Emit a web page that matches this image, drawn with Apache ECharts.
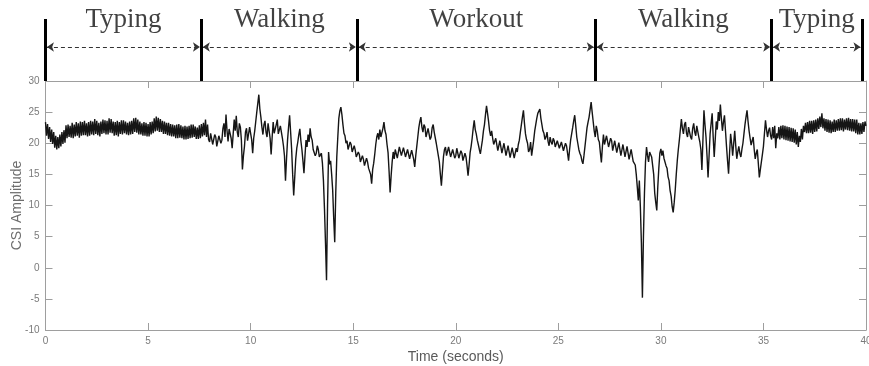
<!DOCTYPE html>
<html>
<head>
<meta charset="utf-8">
<script src="https://cdn.jsdelivr.net/npm/echarts@6/dist/echarts.min.js"></script>
<style>html,body{margin:0;padding:0;background:#fff;}#chart{width:869px;height:366px;}</style>
</head>
<body>
<div id="chart"></div>
<script>
// Sample spacing of the trace (seconds)
var sampleStep = 0.05;
// CSI amplitude, one value every 0.05 s, rows = one second
var csiAmplitude = [
  23.4, 21.2, 23.1, 20.7, 22.6, 20.2, 22.2, 19.9, 21.8, 19.3, 21.2, 19.0, 21.0, 19.2, 21.4, 19.5, 21.8, 19.9, 22.1, 20.1,
  22.9, 20.8, 23.0, 21.0, 22.8, 20.9, 23.3, 20.8, 23.0, 21.1, 23.4, 21.2, 23.2, 20.9, 23.5, 21.2, 23.4, 21.3, 23.6, 21.3,
  23.2, 21.1, 23.4, 21.2, 23.6, 21.4, 23.5, 21.3, 23.9, 21.5, 23.6, 21.3, 23.3, 21.1, 23.5, 21.5, 23.8, 21.6, 23.7, 21.4,
  23.6, 21.4, 24.0, 21.7, 23.9, 21.6, 23.5, 21.2, 23.4, 21.3, 23.6, 21.1, 23.4, 21.5, 23.7, 21.4, 23.7, 21.6, 23.5, 21.4,
  23.3, 21.3, 23.5, 21.4, 23.6, 21.5, 24.0, 21.8, 24.1, 21.7, 23.8, 21.4, 23.5, 21.4, 23.2, 21.2, 23.4, 21.2, 23.3, 21.1,
  23.1, 21.1, 23.4, 21.4, 23.5, 21.6, 24.0, 21.9, 24.3, 22.0, 24.1, 21.8, 23.9, 21.8, 23.6, 21.5, 23.5, 21.5, 23.3, 21.3,
  23.3, 21.2, 23.1, 21.1, 23.0, 21.1, 22.9, 20.8, 23.0, 20.8, 23.1, 20.9, 22.9, 20.8, 22.7, 20.6, 22.8, 20.6, 22.7, 20.7,
  22.8, 20.8, 23.0, 20.9, 23.0, 21.0, 22.7, 20.7, 22.5, 20.7, 22.9, 20.8, 23.1, 21.1, 23.3, 21.3, 23.8, 21.0, 23.0, 20.6,
  20.2, 21.6, 21.8, 19.8, 19.6, 21.4, 21.0, 19.5, 19.4, 21.2, 21.5, 20.0, 20.5, 22.4, 23.2, 21.0, 24.6, 22.0, 20.3, 22.3,
  22.5, 20.8, 19.2, 21.5, 23.8, 22.0, 24.4, 21.8, 21.0, 23.2, 22.6, 20.5, 15.8, 18.0, 19.5, 21.8, 22.4, 20.4, 20.2, 22.6,
  22.8, 20.6, 18.4, 20.8, 22.0, 23.5, 25.0, 26.4, 27.8, 25.5, 24.2, 22.6, 21.4, 23.0, 23.6, 21.8, 21.0, 23.2, 22.9, 20.8,
  18.2, 21.0, 23.4, 21.6, 21.5, 23.0, 23.8, 21.5, 21.2, 22.8, 22.5, 20.8, 19.6, 18.0, 14.0, 17.5, 20.5, 22.6, 24.5, 21.8,
  19.0, 15.0, 11.6, 14.5, 17.5, 19.2, 20.2, 21.4, 22.3, 20.4, 19.0, 17.2, 15.2, 18.0, 20.5, 19.4, 21.4, 20.2, 22.4, 21.0,
  20.5, 19.0, 19.2, 18.0, 18.4, 19.6, 19.0, 17.8, 17.6, 18.4, 16.8, 14.0, 9.5, 4.0, -2.0, 10.0, 18.6, 16.6, 17.2, 15.0,
  12.5, 8.0, 4.1, 12.0, 17.8, 21.0, 24.0, 25.2, 25.8, 24.6, 23.0, 21.6, 21.2, 20.0, 20.4, 19.0, 19.2, 20.2, 19.8, 18.6,
  18.5, 19.6, 18.9, 17.8, 17.6, 18.6, 18.2, 17.0, 16.8, 18.0, 17.4, 16.4, 16.5, 17.6, 17.0, 16.0, 16.2, 15.0, 13.5, 15.8,
  16.8, 18.2, 19.8, 21.0, 21.6, 20.6, 22.2, 21.0, 20.8, 22.4, 23.4, 22.0, 21.4, 19.8, 18.5, 15.5, 12.1, 14.8, 17.0, 18.6,
  17.5, 19.0, 18.8, 17.6, 17.8, 19.4, 19.2, 18.0, 18.0, 19.3, 19.0, 17.8, 17.6, 19.0, 18.8, 17.5, 17.7, 18.9, 18.6, 17.4,
  16.2, 18.0, 19.5, 21.0, 22.5, 23.5, 24.2, 22.6, 21.8, 23.0, 22.6, 21.0, 20.8, 22.4, 22.2, 20.6, 21.0, 22.5, 23.0, 21.8,
  21.5, 20.0, 19.0, 18.0, 17.0, 15.0, 13.2, 15.5, 17.8, 19.0, 19.4, 18.0, 18.0, 19.4, 19.2, 17.8, 17.6, 19.0, 18.8, 17.6,
  18.0, 19.2, 18.9, 17.6, 17.6, 18.8, 18.4, 17.2, 17.2, 18.4, 17.8, 16.4, 14.8, 16.5, 18.5, 19.5, 20.8, 22.4, 23.7, 22.2,
  21.5, 20.5, 19.8, 19.0, 18.3, 19.4, 20.5, 22.0, 23.0, 24.6, 26.0, 24.8, 23.5, 22.0, 21.2, 22.0, 20.8, 19.8, 19.6, 20.8,
  20.6, 18.8, 19.6, 20.4, 20.1, 18.4, 18.4, 20.0, 19.7, 18.0, 18.0, 19.6, 19.3, 17.7, 17.7, 19.3, 19.1, 17.6, 17.6, 19.2,
  18.6, 19.8, 20.5, 21.8, 23.0, 24.2, 25.3, 23.2, 21.5, 20.6, 20.0, 18.6, 19.0, 20.2, 18.0, 19.2, 20.5, 22.0, 23.0, 24.0,
  24.8, 25.0, 25.5, 24.0, 23.0, 22.0, 21.6, 20.6, 21.0, 21.8, 20.3, 19.6, 21.0, 20.2, 19.8, 20.8, 20.4, 19.4, 19.6, 20.4,
  20.2, 19.2, 19.3, 20.2, 19.9, 18.8, 19.0, 20.0, 19.6, 18.4, 17.2, 19.0, 20.5, 21.5, 22.5, 23.6, 24.5, 22.8, 21.0, 20.0,
  19.0, 18.4, 18.0, 17.2, 16.7, 18.0, 19.5, 21.0, 22.5, 23.4, 24.2, 25.4, 26.6, 25.0, 23.5, 22.0, 21.0, 22.8, 22.0, 20.6,
  20.2, 18.5, 16.9, 19.5, 21.4, 19.8, 19.6, 21.2, 21.0, 19.4, 19.2, 20.8, 20.4, 18.8, 18.8, 20.4, 20.1, 18.5, 18.6, 20.1,
  19.8, 18.0, 18.3, 19.8, 19.5, 17.8, 18.0, 19.5, 19.2, 17.4, 17.6, 19.0, 18.8, 17.1, 17.3, 16.5, 15.0, 13.0, 10.8, 14.0,
  9.8, 4.0, -4.8, 5.0, 12.0, 17.0, 19.4, 18.0, 17.0, 18.6, 18.8, 17.8, 17.5, 15.0, 12.0, 10.5, 9.2, 13.0, 16.0, 18.4,
  19.1, 18.0, 18.8, 17.6, 17.5, 16.4, 16.0, 14.6, 14.0, 12.4, 11.5, 9.8, 8.9, 10.5, 12.5, 15.0, 17.2, 19.0, 20.5, 22.2,
  23.9, 22.4, 21.5, 23.0, 23.4, 21.6, 21.0, 22.6, 22.8, 21.0, 20.6, 22.4, 23.2, 21.8, 21.2, 22.8, 22.5, 21.0, 20.2, 19.0,
  15.7, 20.5, 25.3, 23.0, 21.0, 18.0, 14.5, 18.0, 21.5, 23.2, 24.8, 21.0, 17.8, 20.6, 23.5, 22.2, 25.0, 23.6, 26.2, 24.0,
  22.0, 23.4, 24.5, 22.0, 19.5, 17.2, 15.1, 18.5, 21.5, 20.0, 18.0, 20.0, 22.0, 19.6, 17.5, 18.6, 19.5, 18.4, 17.8, 19.0,
  20.0, 21.5, 23.0, 24.2, 25.3, 23.5, 22.0, 20.8, 19.7, 20.4, 21.0, 19.0, 17.5, 18.4, 19.0, 16.8, 14.5, 15.8, 17.0, 18.2,
  19.5, 21.6, 23.7, 22.2, 21.0, 22.0, 22.5, 21.2, 20.6, 22.6, 20.8, 22.8, 19.2, 21.6, 20.8, 22.6, 20.6, 22.8, 20.8, 22.9,
  20.6, 22.8, 20.5, 22.7, 20.4, 22.6, 20.3, 22.5, 20.2, 22.4, 20.1, 22.2, 19.8, 21.8, 19.4, 21.2, 20.2, 22.3, 20.6, 22.8,
  21.8, 23.3, 21.6, 23.4, 21.6, 23.6, 21.7, 23.6, 21.5, 23.7, 21.8, 23.8, 21.9, 24.0, 22.3, 24.3, 22.6, 24.8, 22.4, 24.0,
  22.0, 23.9, 21.8, 23.8, 21.7, 23.7, 21.6, 23.5, 21.8, 23.8, 21.8, 23.7, 22.0, 23.9, 22.0, 24.0, 22.1, 24.0, 21.9, 23.8,
  22.2, 24.0, 22.1, 24.1, 22.0, 23.9, 21.9, 23.9, 21.9, 23.8, 21.6, 23.8, 21.4, 23.3, 21.4, 23.2, 21.5, 23.4, 21.8, 23.5,
  22.8
];
// Activity phases: boundaries (seconds) and names
var phaseBounds = [0, 7.6, 15.2, 26.8, 35.4, 39.8];
var phaseNames = ['Typing', 'Walking', 'Workout', 'Walking', 'Typing'];
// Axis ticks
var xTicks = [0, 5, 10, 15, 20, 25, 30, 35, 40];
var yTicks = [-10, -5, 0, 5, 10, 15, 20, 25, 30];

// annotation band layout levels (0..1 of the band height)
var boundTop = 0.765, arrowLevel = 0.42, labelLevel = 0.75;

var traceData = csiAmplitude.map(function (v, i) { return [Math.round(i * sampleStep * 100) / 100, v]; });
var boundLines = phaseBounds.map(function (b) { return { coords: [[b, 0], [b, boundTop]] }; });
var arrowLines = [];
var labelPoints = [];
for (var i = 0; i < phaseNames.length; i++) {
  arrowLines.push({ coords: [[phaseBounds[i] + 0.07, arrowLevel], [phaseBounds[i + 1] - 0.07, arrowLevel]] });
  labelPoints.push({ value: [(phaseBounds[i] + phaseBounds[i + 1]) / 2, labelLevel], name: phaseNames[i] });
}

var axisGray = '#9e9e9e';
var labelGray = '#7a7a7a';
var chart = echarts.init(document.getElementById('chart'), null, { renderer: 'canvas' });
chart.setOption({
  animation: false,
  backgroundColor: '#fff',
  grid: [
    { left: 45.5, right: 3, top: 81, bottom: 36, containLabel: false, outerBoundsMode: 'none' },
    { left: 45.5, right: 3, top: 0, height: 81, containLabel: false, outerBoundsMode: 'none' }
  ],
  xAxis: [
    {
      type: 'value', gridIndex: 0, min: xTicks[0], max: xTicks[xTicks.length - 1], interval: 5,
      name: 'Time (seconds)', nameLocation: 'middle', nameGap: 20, nameMoveOverlap: false,
      nameTextStyle: { fontFamily: 'Liberation Sans', fontSize: 14, color: '#5a5a5a' },
      axisLine: { show: true, onZero: false, lineStyle: { color: axisGray, width: 1 } },
      axisTick: { show: true, inside: true, length: 7, lineStyle: { color: axisGray } },
      axisLabel: { fontFamily: 'Liberation Sans', fontSize: 10, color: labelGray, margin: 6 },
      splitLine: { show: false }
    },
    {
      type: 'value', gridIndex: 1, min: 0, max: 40, show: false
    },
    {
      type: 'value', gridIndex: 0, position: 'top', min: 0, max: 40, interval: 5,
      axisLine: { show: true, onZero: false, lineStyle: { color: axisGray, width: 1 } },
      axisTick: { show: true, inside: true, length: 7, lineStyle: { color: axisGray } },
      axisLabel: { show: false }, splitLine: { show: false }
    }
  ],
  yAxis: [
    {
      type: 'value', gridIndex: 0, min: yTicks[0], max: yTicks[yTicks.length - 1], interval: 5,
      name: 'CSI Amplitude', nameLocation: 'middle', nameGap: 21, nameRotate: 90, nameMoveOverlap: false,
      nameTextStyle: { fontFamily: 'Liberation Sans', fontSize: 14, color: '#6e6e6e' },
      axisLine: { show: true, onZero: false, lineStyle: { color: axisGray, width: 1 } },
      axisTick: { show: true, inside: true, length: 7, lineStyle: { color: axisGray } },
      axisLabel: { fontFamily: 'Liberation Sans', fontSize: 10, color: labelGray, margin: 6 },
      splitLine: { show: false }
    },
    {
      type: 'value', gridIndex: 1, min: 0, max: 1, show: false
    },
    {
      type: 'value', gridIndex: 0, position: 'right', min: -10, max: 30, interval: 5,
      axisLine: { show: true, onZero: false, lineStyle: { color: axisGray, width: 1 } },
      axisTick: { show: true, inside: true, length: 7, lineStyle: { color: axisGray } },
      axisLabel: { show: false }, splitLine: { show: false }
    }
  ],
  series: [
    {
      type: 'line', xAxisIndex: 0, yAxisIndex: 0, data: traceData,
      showSymbol: false, symbol: 'none', smooth: false, sampling: null,
      lineStyle: { color: '#151515', width: 1.4 }, z: 3
    },
    {
      type: 'lines', coordinateSystem: 'cartesian2d', xAxisIndex: 1, yAxisIndex: 1,
      data: boundLines, symbol: 'none',
      lineStyle: { color: '#000', width: 3, opacity: 1 }, z: 5
    },
    {
      type: 'lines', coordinateSystem: 'cartesian2d', xAxisIndex: 1, yAxisIndex: 1,
      data: arrowLines, symbol: ['arrow', 'arrow'], symbolSize: 7,
      lineStyle: { color: '#333', width: 1, type: [4, 3], opacity: 1 }, z: 4
    },
    {
      type: 'scatter', xAxisIndex: 1, yAxisIndex: 1, data: labelPoints, symbolSize: 0,
      label: {
        show: true, position: 'inside', formatter: function (p) { return p.name; },
        fontFamily: 'Liberation Serif', fontSize: 27, color: '#111'
      },
      silent: true, z: 6
    }
  ]
});
</script>
</body>
</html>
